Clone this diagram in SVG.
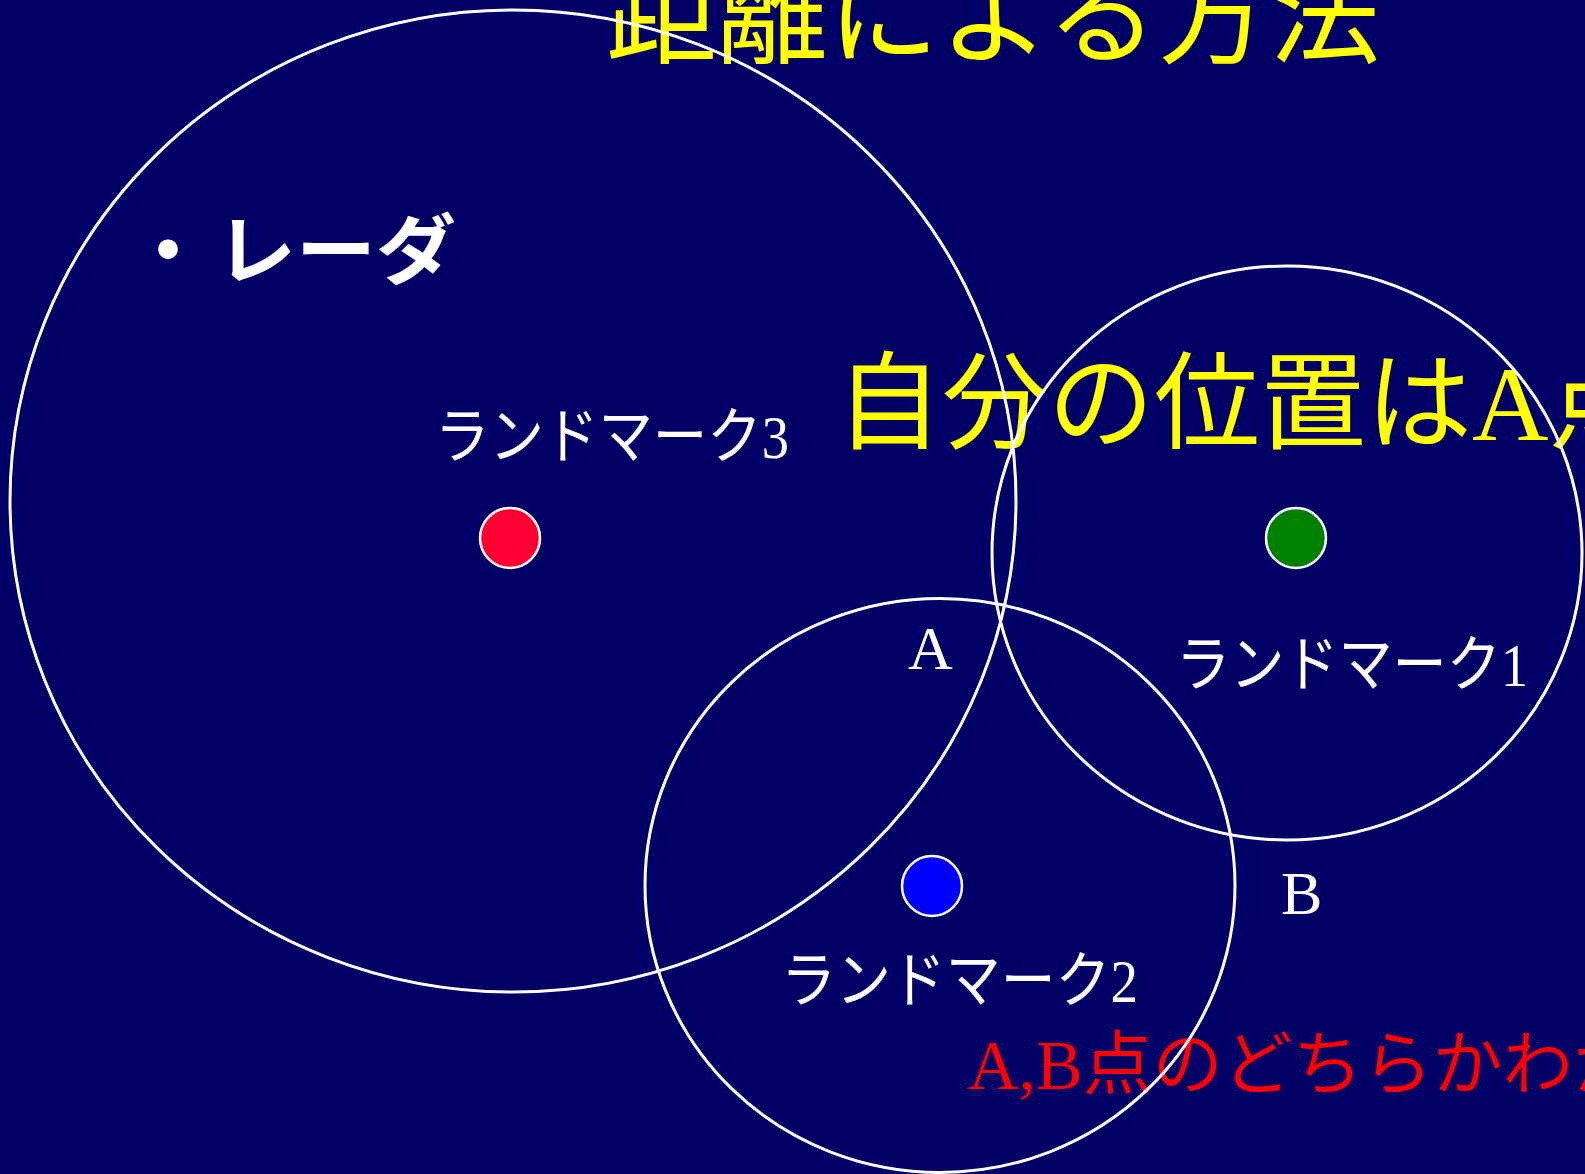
<svg xmlns="http://www.w3.org/2000/svg" width="1585" height="1174" viewBox="0 0 1585 1174">
<style>
.jp{font-family:"Noto Sans CJK JP","Liberation Sans",sans-serif}
.lbl{font-family:"Liberation Serif","Noto Sans CJK JP",serif;fill:#ffffff}
.ring{fill:none;stroke:#ffffff;stroke-width:3}
.dot{stroke:#ffffff;stroke-width:2.5}
</style>
<rect x="0" y="0" width="1585" height="1174" fill="#000066"/>
<g id="title">
<text class="jp" x="606" y="55" font-size="112" fill="#ffff00" textLength="774" lengthAdjust="spacingAndGlyphs">距離による方法</text>
</g>
<g id="bullet-radar">
<text class="jp" font-size="76" font-weight="bold" fill="#ffffff" y="278"><tspan x="130">・</tspan><tspan x="216" textLength="240" lengthAdjust="spacingAndGlyphs">レーダ</tspan></text>
</g>
<g id="position-text">
<text font-family="Liberation Serif, Noto Sans CJK JP, serif" x="836" y="440" font-size="106" fill="#ffff00"><tspan font-family="Noto Sans CJK JP, sans-serif">自分の位置は</tspan>A<tspan font-family="Noto Sans CJK JP, sans-serif">点</tspan></text>
</g>
<g id="ambiguity-text">
<text font-family="Liberation Serif, Noto Sans CJK JP, serif" x="968" y="1089" font-size="70" fill="#ff0000">A,B<tspan font-family="Noto Sans CJK JP, sans-serif">点のどちらかわか</tspan></text>
</g>
<g id="connectors">
<ellipse id="range3" class="ring" cx="513" cy="501" rx="503" ry="491"/>
<ellipse id="range1" class="ring" cx="1287" cy="553" rx="295" ry="287"/>
<ellipse id="range2" class="ring" cx="940" cy="885.5" rx="295" ry="287"/>
</g>
<g id="landmark3">
<circle class="dot" cx="510" cy="538" r="30" fill="#ff0033"/>
<text class="lbl" x="435" y="458" font-size="61" textLength="354" lengthAdjust="spacingAndGlyphs">ランドマーク3</text>
</g>
<g id="landmark1">
<circle class="dot" cx="1296" cy="538" r="30" fill="#008000"/>
<text class="lbl" x="1176" y="686" font-size="61" textLength="352" lengthAdjust="spacingAndGlyphs">ランドマーク1</text>
</g>
<g id="landmark2">
<circle class="dot" cx="932" cy="886" r="30" fill="#0000ff"/>
<text class="lbl" x="781" y="1002" font-size="61" textLength="357" lengthAdjust="spacingAndGlyphs">ランドマーク2</text>
</g>
<g id="point-A">
<text class="lbl" x="908" y="669" font-size="62">A</text>
</g>
<g id="point-B">
<text class="lbl" x="1281" y="914" font-size="62">B</text>
</g>
</svg>
